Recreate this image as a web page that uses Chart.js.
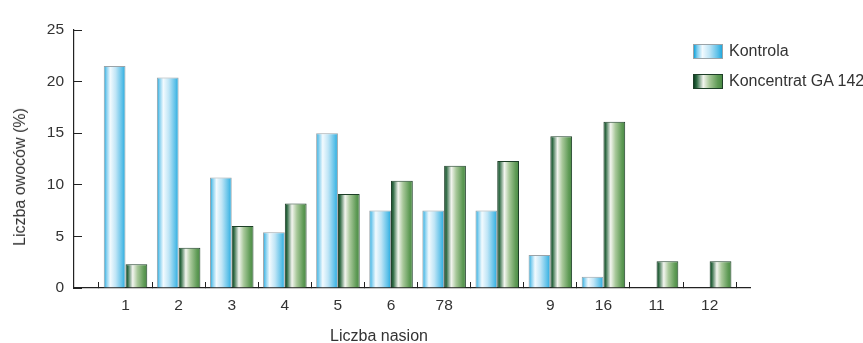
<!DOCTYPE html>
<html>
<head>
<meta charset="utf-8">
<script src="https://cdn.jsdelivr.net/npm/chart.js@4.4.1/dist/chart.umd.min.js"></script>
<style>
  body { margin: 0; background: #fff; }
  #wrap { position: relative; width: 863px; height: 343px; font-family: "Liberation Sans", Arial, sans-serif; color: #333; }
  .legend-item { position: absolute; left: 693px; height: 16px; display: flex; align-items: center; font-size: 16px; white-space: nowrap; }
  .swatch { width: 28px; height: 13px; margin-right: 6px; box-sizing: content-box; }
  .sw-blue { border: 1px solid #9aa3a8; background: linear-gradient(to right, #13a3da 0%, #7fcdee 12%, #f2fafe 30%, #bfe5f6 55%, #5cc0e8 85%, #22a9de 100%); }
  .sw-green { border: 1px solid #1e3f28; background: linear-gradient(to right, #0b3f21 0%, #2f6a43 10%, #f3f5ef 33%, #a8c89a 55%, #5e9a55 85%, #4a8a45 100%); }
  .axis-title { position: absolute; font-size: 16px; line-height: 18px; white-space: nowrap; transform: translate(-50%, -50%); }
</style>
</head>
<body>
<div id="wrap">
  <canvas id="chart"></canvas>
  <div class="legend-item" style="top:43px"><span class="swatch sw-blue"></span><span id="leg0"></span></div>
  <div class="legend-item" style="top:73px"><span class="swatch sw-green"></span><span id="leg1"></span></div>
  <div class="axis-title" style="left:20px; top:177px; transform: translate(-50%, -50%) rotate(-90deg);">Liczba owoców (%)</div>
  <div class="axis-title" style="left:379px; top:336px;">Liczba nasion</div>
</div>
<script>
const positions = [1, 2, 3, 4, 5, 6, 7, 8, 9, 10, 11, 12];
const tickLabels = ['1', '2', '3', '4', '5', '6', '78', '', '9', '16', '11', '12'];
const seriesNames = ['Kontrola', 'Koncentrat GA 142'];
const kontrola = [21.5, 20.4, 10.7, 5.4, 15.0, 7.5, 7.5, 7.5, 3.2, 1.1, 0, 0];
const koncentrat = [2.3, 3.9, 6.0, 8.2, 9.1, 10.4, 11.85, 12.3, 14.7, 16.1, 2.6, 2.6];
const yTicks = [0, 5, 10, 15, 20, 25];

const CAT_PCT = 0.82;
const blueStops = [[0, '#13a3da'], [0.12, '#7fcdee'], [0.3, '#f2fafe'], [0.55, '#bfe5f6'], [0.85, '#5cc0e8'], [1, '#22a9de']];
const greenStops = [[0, '#0b3f21'], [0.1, '#2f6a43'], [0.33, '#f3f5ef'], [0.55, '#a8c89a'], [0.85, '#5e9a55'], [1, '#4a8a45']];

document.getElementById('leg0').textContent = seriesNames[0];
document.getElementById('leg1').textContent = seriesNames[1];

// horizontal gradient across each bar, worked out from the x scale
function barFill(stops) {
    return function(ctx) {
        const chart = ctx.chart;
        const x = chart.scales.x;
        const fallback = stops[4][1];
        if (!x || ctx.type !== 'data' || !ctx.parsed) return fallback;
        const step = x.getPixelForValue(2) - x.getPixelForValue(1);
        const w = step * CAT_PCT / 2;
        const center = x.getPixelForValue(ctx.parsed.x);
        const left = ctx.datasetIndex === 0 ? center - w : center;
        if (!isFinite(left) || !isFinite(w) || w <= 0) return fallback;
        const g = chart.ctx.createLinearGradient(left, 0, left + w, 0);
        stops.forEach(s => g.addColorStop(s[0], s[1]));
        return g;
    };
}

const tickFont = { family: '"Liberation Sans", Arial, sans-serif', size: 15.5 };

new Chart(document.getElementById('chart'), {
    type: 'bar',
    data: {
        datasets: [{
            label: seriesNames[0],
            data: positions.map((p, i) => ({ x: p, y: kontrola[i] })),
            backgroundColor: barFill(blueStops),
            borderColor: '#9aa3a8',
            borderWidth: 1
        }, {
            label: seriesNames[1],
            data: positions.map((p, i) => ({ x: p, y: koncentrat[i] })),
            backgroundColor: barFill(greenStops),
            borderColor: '#1e3f28',
            borderWidth: 1
        }]
    },
    options: {
        responsive: true,
        maintainAspectRatio: false,
        animation: false,
        layout: { padding: { top: 30, right: 113, bottom: 0, left: 0 } },
        datasets: { bar: { categoryPercentage: CAT_PCT, barPercentage: 1 } },
        plugins: { legend: { display: false }, tooltip: { enabled: false } },
        scales: {
            x: {
                type: 'linear',
                min: 0.03,
                max: 12.76,
                offset: false,
                afterFit: s => { s.height = 55; },
                afterBuildTicks: s => { s.ticks = positions.map(v => ({ value: v })); },
                grid: { offset: true, drawOnChartArea: false, drawTicks: true, tickLength: -6, color: '#222' },
                border: { color: '#222', width: 1.2 },
                ticks: {
                    autoSkip: false, maxRotation: 0, padding: 14, color: '#333', font: tickFont,
                    callback: v => tickLabels[positions.indexOf(v)]
                }
            },
            y: {
                min: 0,
                max: 25,
                afterFit: s => { s.width = 74; },
                afterBuildTicks: s => { s.ticks = yTicks.map(v => ({ value: v })); },
                grid: { drawOnChartArea: false, drawTicks: true, tickLength: -8, color: '#222' },
                border: { color: '#222', width: 1.2 },
                ticks: { padding: 18, color: '#333', font: tickFont }
            }
        }
    }
});
</script>
</body>
</html>
